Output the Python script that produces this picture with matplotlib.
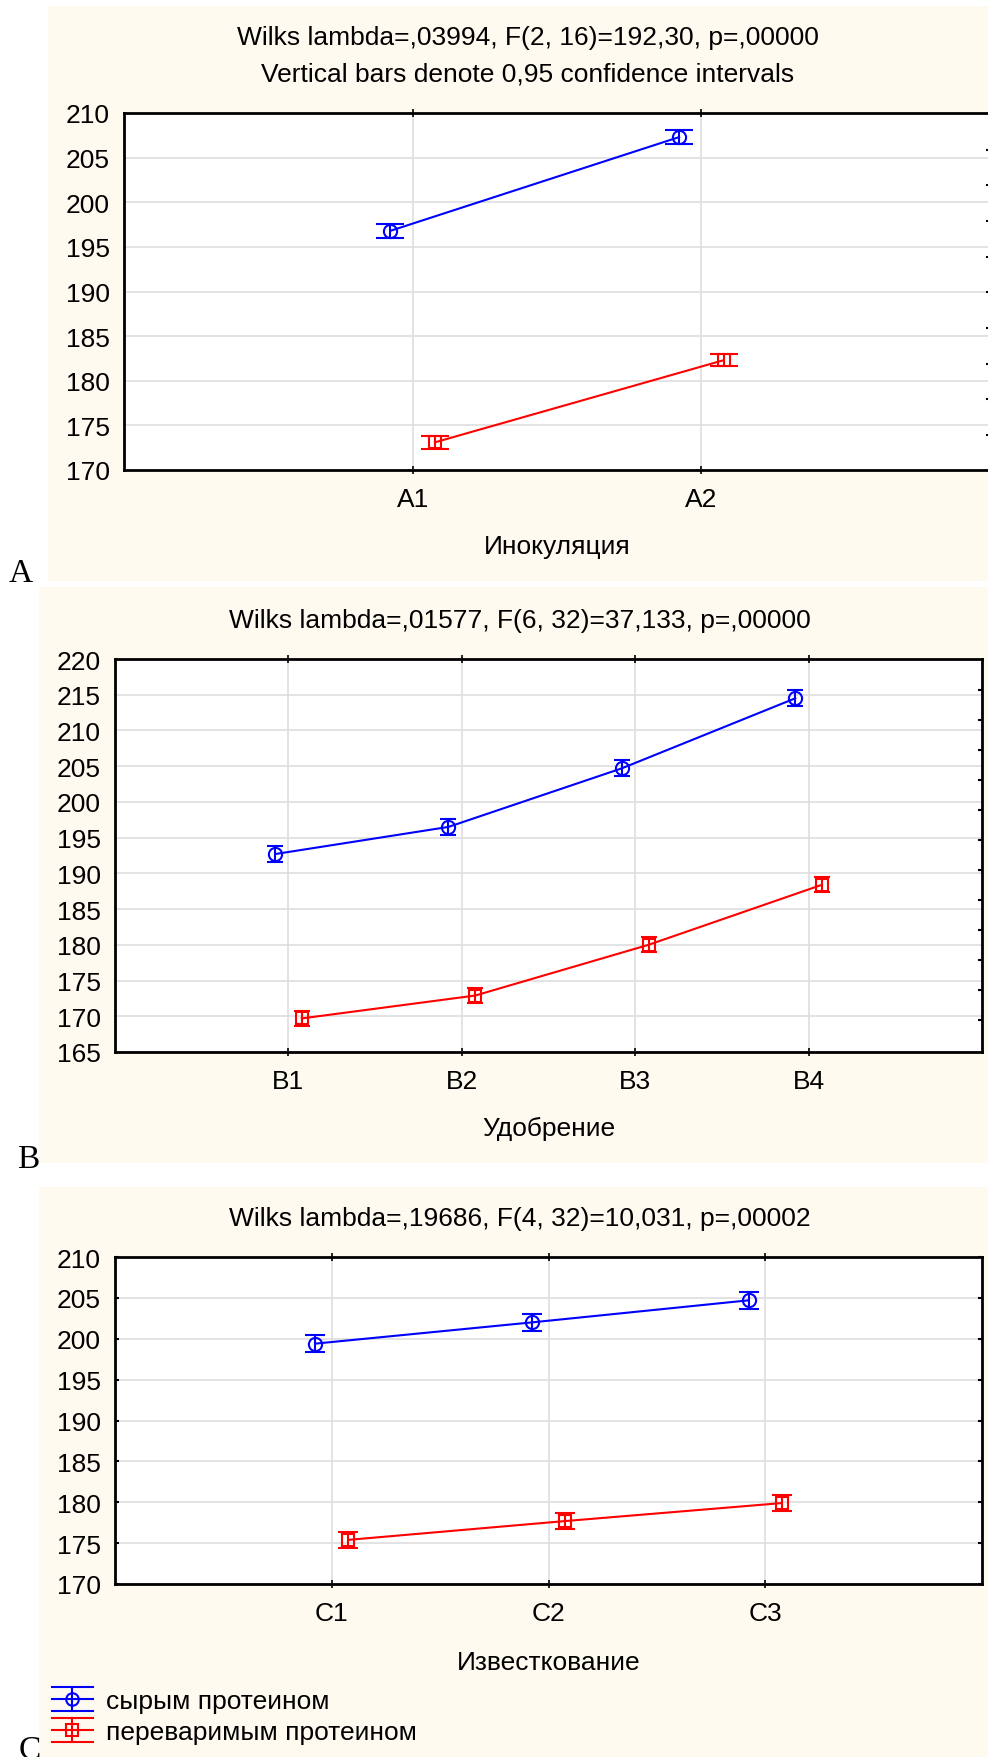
import numpy as np
import matplotlib
matplotlib.use("Agg")
import matplotlib.pyplot as plt
from matplotlib.patches import Rectangle
from matplotlib.lines import Line2D
from matplotlib.legend_handler import HandlerBase

plt.rcParams['font.family'] = ['Liberation Sans', 'DejaVu Sans']

# Panel A - inoculation
a_labels = ['A1', 'A2']
a_raw = [196.8, 207.3]
a_raw_ci = [0.75, 0.75]
a_dig = [173.1, 182.3]
a_dig_ci = [0.7, 0.7]

# Panel B - fertilizer
b_labels = ['B1', 'B2', 'B3', 'B4']
b_raw = [192.7, 196.5, 204.7, 214.5]
b_raw_ci = [1.1, 1.1, 1.1, 1.1]
b_dig = [169.7, 172.9, 180.0, 188.4]
b_dig_ci = [1.05, 1.05, 1.05, 1.05]

# Panel C - liming
c_labels = ['C1', 'C2', 'C3']
c_raw = [199.4, 202.0, 204.7]
c_raw_ci = [1.0, 1.0, 1.0]
c_dig = [175.4, 177.7, 179.9]
c_dig_ci = [0.95, 0.95, 0.95]

titles = [
    "Wilks lambda=,03994, F(2, 16)=192,30, p=,00000\nVertical bars denote 0,95 confidence intervals",
    "Wilks lambda=,01577, F(6, 32)=37,133, p=,00000",
    "Wilks lambda=,19686, F(4, 32)=10,031, p=,00002",
]
xlabels = ["Инокуляция", "Удобрение", "Известкование"]
series_names = ["сырым протеином", "переваримым протеином"]

W, H = 988, 1758
cream = '#FFFAF0'
fig = plt.figure(figsize=(W / 100, H / 100), dpi=100)


def box(x0, y0, x1, y1):
    fig.patches.append(Rectangle((x0 / W, 1 - y1 / H), (x1 - x0) / W, (y1 - y0) / H,
                                 transform=fig.transFigure, facecolor=cream,
                                 edgecolor='none', zorder=-5))


def px_axes(left, top, right, bottom):
    return fig.add_axes([left / W, 1 - bottom / H, (right - left) / W, (bottom - top) / H])


box(48, 7, 988, 582)
box(39, 588, 988, 1164)
box(39, 1188, 988, 1758)

off = 0.077


def panel(ax, labels, raw, raw_ci, dig, dig_ci, ylim, cap, xlabel, lpad, right_ticks=None):
    x = np.arange(1, len(labels) + 1)
    ax.errorbar(x - off, raw, yerr=raw_ci, color='#0000FF', marker='o', ms=9.5,
                mfc='none', mew=1.5, lw=1.5, elinewidth=1.5, capsize=cap, capthick=1.5)
    ax.errorbar(x + off, dig, yerr=dig_ci, color='#FF0000', marker='s', ms=8,
                mfc='none', mew=1.5, lw=1.5, elinewidth=1.5, capsize=cap, capthick=1.5)
    ax.set_xlim(0, len(labels) + 1)
    ax.set_ylim(*ylim)
    ax.set_xticks(x)
    ax.set_xticklabels(labels)
    ax.set_yticks(np.arange(ylim[0], ylim[1] + 1, 5))
    ax.grid(True, color='#DEDEDE', lw=1.2)
    ax.set_axisbelow(True)
    ax.tick_params(axis='x', direction='inout', length=6, top=True, width=1.2,
                   labelsize=19, pad=9)
    ax.tick_params(axis='y', length=0, labelsize=19, pad=10)
    for s in ax.spines.values():
        s.set_linewidth(2)
    ax.set_xlabel(xlabel, fontsize=19, labelpad=lpad)
    if right_ticks is None:
        ax.tick_params(axis='y', right=True, direction='in', length=3, width=1.5)
    else:
        tw = ax.twinx()
        tw.set_ylim(*ylim)
        tw.set_yticks(right_ticks)
        tw.tick_params(axis='y', direction='in', length=3, width=1.5, labelright=False)
        for s in tw.spines.values():
            s.set_visible(False)


axA = px_axes(124, 114, 990, 471)
panel(axA, a_labels, a_raw, a_raw_ci, a_dig, a_dig_ci, (170, 210), 10, xlabels[0], 17,
      right_ticks=np.arange(173.9, 206.5, 4.0))
axB = px_axes(115, 660, 982, 1053)
panel(axB, b_labels, b_raw, b_raw_ci, b_dig, b_dig_ci, (165, 220), 6, xlabels[1], 16.5,
      right_ticks=np.arange(215.7, 166, -4.2))
axC = px_axes(115, 1258, 982, 1585)
panel(axC, c_labels, c_raw, c_raw_ci, c_dig, c_dig_ci, (170, 210), 7.5, xlabels[2], 18)

fig.text(528 / W, 1 - 56 / H, titles[0], ha='center', va='center', fontsize=19,
         linespacing=1.65)
fig.text(520 / W, 1 - 621 / H, titles[1], ha='center', va='center', fontsize=19)
fig.text(520 / W, 1 - 1219 / H, titles[2], ha='center', va='center', fontsize=19)

serif = ['Liberation Serif', 'DejaVu Serif']
fig.text(9 / W, 1 - 582 / H, 'A', ha='left', va='baseline', fontsize=24, family=serif)
fig.text(17 / W, 1 - 1168 / H, 'B', ha='left', va='baseline', fontsize=24, family=serif)
fig.text(19 / W, 1 - 1759 / H, 'C', ha='left', va='baseline', fontsize=24, family=serif)


class CIHandler(HandlerBase):
    def __init__(self, color, marker, ms):
        super().__init__()
        self.color, self.marker, self.ms = color, marker, ms

    def create_artists(self, legend, orig_handle, xdescent, ydescent, width, height,
                       fontsize, trans):
        x0, x1 = -xdescent, width - xdescent
        cx = (x0 + x1) / 2
        cy = height / 2 - ydescent
        h = height / 2
        kw = dict(color=self.color, lw=1.5, transform=trans)
        arts = [Line2D([x0, x1], [cy, cy], **kw),
                Line2D([x0, x1], [cy + h, cy + h], **kw),
                Line2D([x0, x1], [cy - h, cy - h], **kw),
                Line2D([cx, cx], [cy - h, cy + h], **kw),
                Line2D([cx], [cy], marker=self.marker, ms=self.ms, mfc='none',
                       mec=self.color, mew=1.5, ls='none', transform=trans)]
        return arts


h1 = Line2D([], [], color='#0000FF')
h2 = Line2D([], [], color='#FF0000')
fig.legend([h1, h2], series_names, loc='upper left',
           bbox_to_anchor=(52 / W, 1 - 1688 / H), frameon=False, fontsize=19,
           handlelength=1.55, handleheight=1.0, handletextpad=0.5, labelspacing=0.2,
           borderpad=0, borderaxespad=0,
           handler_map={h1: CIHandler('#0000FF', 'o', 9), h2: CIHandler('#FF0000', 's', 8)})

fig.savefig('out.png', dpi=100)
